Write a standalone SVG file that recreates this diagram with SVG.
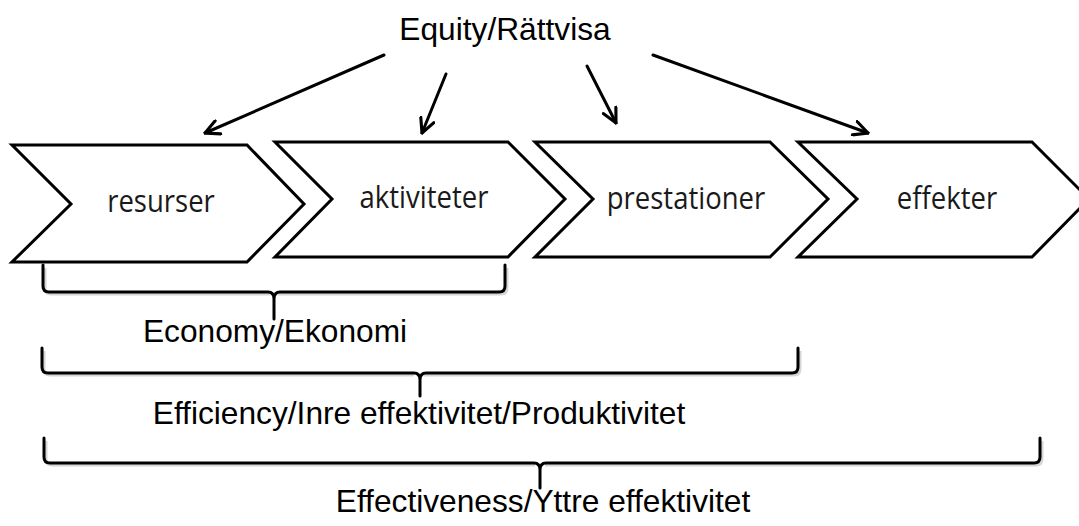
<svg xmlns="http://www.w3.org/2000/svg" width="1079" height="526" viewBox="0 0 1079 526">
<style>
.chev{fill:#fff;stroke:#000;stroke-width:3;stroke-linejoin:miter}
.lbl{font-family:"Open Sans","Noto Sans",sans-serif;font-size:27.5px;fill:#1a1a1a;text-anchor:middle}
.cap{font-family:"Liberation Sans",Arial,sans-serif;font-size:31.7px;fill:#000;text-anchor:middle}
.arr{stroke:#000;stroke-width:3;fill:none;stroke-linecap:round}
.brace{stroke:#000;stroke-width:3;fill:none;stroke-linecap:round}
.shadow{stroke:#bbb;stroke-width:3;fill:none;opacity:0.6}
</style>
<defs>
<marker id="ah" viewBox="0 0 12 12" refX="11" refY="6" markerWidth="17" markerHeight="17" markerUnits="userSpaceOnUse" orient="auto">
<path d="M1,1 L11,6 L1,11" fill="none" stroke="#000" stroke-width="2.2" stroke-linecap="round" stroke-linejoin="miter"/>
</marker>
</defs>
<rect width="1079" height="526" fill="#fff"/>
<g id="equity"><text class="cap" x="505" y="40">Equity/Rättvisa</text></g>
<g id="resurser">
<polygon class="chev" points="12,145 247,145 304,204 247,262 12,262 71,204"/>
<text class="lbl" transform="translate(161,212) scale(1,1.12)">resurser</text>
</g>
<g id="aktiviteter">
<polygon class="chev" points="275,142 508,142 565,199 508,257 275,257 332,199"/>
<text class="lbl" transform="translate(424,208) scale(1,1.12)">aktiviteter</text>
</g>
<g id="prestationer">
<polygon class="chev" points="535,142 770,142 828,199 770,257 535,257 593,199"/>
<text class="lbl" transform="translate(686,209) scale(1,1.12)">prestationer</text>
</g>
<g id="effekter">
<polygon class="chev" points="798,142 1032,142 1089,199 1032,257 798,257 857,199"/>
<text class="lbl" transform="translate(947,209) scale(1,1.12)">effekter</text>
</g>
<g id="connectors">
<line class="arr" x1="384" y1="55" x2="205" y2="133" marker-end="url(#ah)"/>
<line class="arr" x1="446" y1="74" x2="422" y2="133" marker-end="url(#ah)"/>
<line class="arr" x1="587" y1="66" x2="616" y2="123" marker-end="url(#ah)"/>
<line class="arr" x1="653" y1="55" x2="868" y2="133" marker-end="url(#ah)"/>
</g>
<g id="economy">
<path class="shadow" d="M45,268 V288 Q45,294 51,294 H270 M278,294 H501 Q507,294 507,288 V268"/>
<path class="brace" d="M43,265 V286 Q43,292 49,292 H268 Q274,292 274,299 V319 M274,299 Q274,292 280,292 H499 Q505,292 505,286 V265"/>
<text class="cap" x="275" y="342">Economy/Ekonomi</text>
</g>
<g id="efficiency">
<path class="shadow" d="M44,351 V369 Q44,375 50,375 H414 M424,375 H794 Q800,375 800,369 V351"/>
<path class="brace" d="M42,348 V367 Q42,373 48,373 H414 Q420,373 420,380 V396 M420,380 Q420,373 426,373 H792 Q798,373 798,367 V348"/>
<text class="cap" x="419" y="424">Efficiency/Inre effektivitet/Produktivitet</text>
</g>
<g id="effectiveness">
<path class="shadow" d="M46,441 V459 Q46,465 52,465 H535 M545,465 H1036 Q1042,465 1042,459 V441"/>
<path class="brace" d="M44,438 V457 Q44,463 50,463 H534 Q540,463 540,470 V488 M540,470 Q540,463 546,463 H1034 Q1040,463 1040,457 V438"/>
<text class="cap" x="543" y="512">Effectiveness/Yttre effektivitet</text>
</g>
</svg>
